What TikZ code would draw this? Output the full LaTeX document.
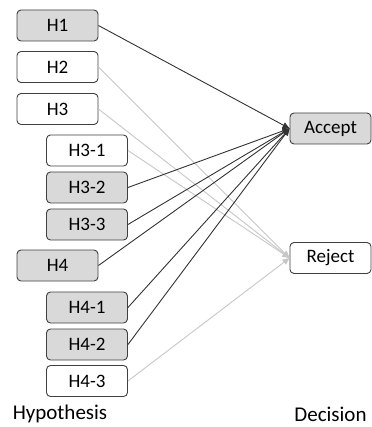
\documentclass[tikz,border=0pt]{standalone}
\usepackage{fontspec}
\setmainfont{Carlito}
\usetikzlibrary{arrows.meta}
\begin{document}
\begin{tikzpicture}[x=1pt, y=-1pt,
    hyp/.style={draw=black!75, line width=0.9pt, rounded corners=4pt,
      minimum width=81pt, minimum height=31pt, inner sep=0pt,
      font=\fontsize{19}{22}\selectfont},
    yes/.style={hyp, fill=black!15},
    no/.style={hyp, fill=white},
    acc/.style={draw=black!80, line width=0.9pt, -{Triangle[length=7pt,width=6pt]}},
    rej/.style={draw=black!22, line width=0.9pt, -{Triangle[length=7pt,width=6pt]}},
    lbl/.style={font=\fontsize{21}{24}\selectfont}]
    \useasboundingbox (0,0) rectangle (371,427);

    %% Hypothesen
    \node[yes] (h1)  at (57.5, 25.5) {H1};
    \node[no]  (h2)  at (57.5, 67)   {H2};
    \node[no]  (h3)  at (57.5, 109)  {H3};
    \node[no]  (h31) at (87, 150.5)  {H3-1};
    \node[yes] (h32) at (87, 187.5)  {H3-2};
    \node[yes] (h33) at (87, 224.5)  {H3-3};
    \node[yes] (h4)  at (57.5, 265.5) {H4};
    \node[yes] (h41) at (87, 307.5)  {H4-1};
    \node[yes] (h42) at (87, 344.5)  {H4-2};
    \node[no]  (h43) at (87, 381)    {H4-3};

    %% Entscheidung
    \node[yes] (acc) at (330.5, 128.5) {Accept};
    \node[no]  (rej) at (330.5, 258)   {Reject};

    % abgelehnt (hellgrau)
    \foreach \h in {h2, h3, h31, h43}
      \draw[rej] (\h.east) -- (rej.west);
    % angenommen (schwarz)
    \foreach \h in {h1, h32, h33, h4, h41, h42}
      \draw[acc] (\h.east) -- (acc.west);

    %% Beschriftung
    \node[lbl] (hyplbl) at (60, 414) {Hypothesis};
    \node[lbl] (declbl) at (330.5, 414) {Decision};

  \end{tikzpicture}
\end{document}
